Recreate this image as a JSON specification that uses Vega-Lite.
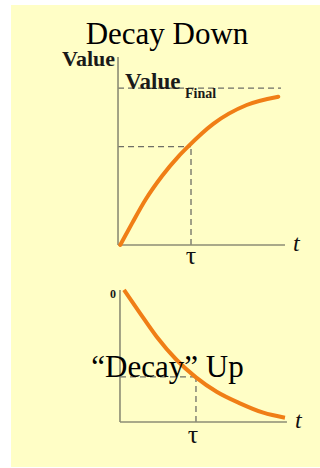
{
  "$schema": "https://vega.github.io/schema/vega-lite/v6.json",
  "width": 320,
  "height": 468,
  "autosize": {"type": "fit", "contains": "padding"},
  "padding": {"left": 11, "top": 5, "right": 0, "bottom": 1},
  "background": "white",
  "config": {"view": {"fill": "#FFFEC6", "stroke": null}, "text": {"font": "Liberation Serif, DejaVu Serif, serif"}},
  "datasets": {
    "top_curve": [
      {"t": 0.03, "v": 0}, {"t": 0.192, "v": 0.138}, {"t": 0.374, "v": 0.287},
      {"t": 0.603, "v": 0.44}, {"t": 0.832, "v": 0.567}, {"t": 0.952, "v": 0.624},
      {"t": 1.305, "v": 0.772}, {"t": 1.763, "v": 0.892}, {"t": 2.196, "v": 0.945}
    ],
    "top_axes": [
      {"t": 0, "v": 0, "t2": 2.288, "v2": 0},
      {"t": 0, "v": 0, "t2": 0, "v2": 1.198}
    ],
    "top_guides": [
      {"t": 0, "v": 1, "t2": 2.233, "v2": 1},
      {"t": 0, "v": 0.627, "t2": 1, "v2": 0.627},
      {"t": 1, "v": 0, "t2": 1, "v2": 0.627}
    ],
    "top_title": [{"t": 0.671, "v": 1.28, "label": "Decay Down"}],
    "top_ylabel": [{"t": -0.041, "v": 1.14, "label": "Value"}],
    "top_final": [{"t": 0.096, "v": 0.994, "label": "Value"}],
    "top_final_sub": [{"t": 0.918, "v": 0.936, "label": "Final"}],
    "top_tau": [{"t": 1.0, "v": -0.121, "label": "τ"}],
    "top_t": [{"t": 2.397, "v": -0.038, "label": "t"}],
    "bottom_curve": [
      {"t": 0.053, "v": 1.082}, {"t": 0.263, "v": 0.893}, {"t": 0.483, "v": 0.699},
      {"t": 0.746, "v": 0.508}, {"t": 1.0, "v": 0.366}, {"t": 1.272, "v": 0.248},
      {"t": 1.579, "v": 0.153}, {"t": 1.886, "v": 0.076}, {"t": 2.171, "v": 0.035}
    ],
    "bottom_axes": [
      {"t": 0, "v": 0, "t2": 2.197, "v2": 0},
      {"t": 0, "v": 0, "t2": 0, "v2": 1.082}
    ],
    "bottom_guides": [
      {"t": 0, "v": 0.369, "t2": 1, "v2": 0.369},
      {"t": 1, "v": 0, "t2": 1, "v2": 0.369}
    ],
    "bottom_title": [{"t": 0.625, "v": 0.369, "label": "“Decay” Up"}],
    "bottom_tau": [{"t": 0.96, "v": -0.172, "label": "τ"}],
    "bottom_t": [{"t": 2.303, "v": -0.049, "label": "t"}],
    "bottom_zero": [{"t": -0.053, "v": 1.016, "label": "0"}]
  },
  "layer": [
    {
      "encoding": {
        "x": {"field": "t", "type": "quantitative", "scale": {"domain": [-1.466, 2.767], "nice": false, "zero": false}, "axis": null},
        "y": {"field": "v", "type": "quantitative", "scale": {"domain": [-1.414, 1.529], "nice": false, "zero": false}, "axis": null}
      },
      "layer": [
        {"data": {"name": "top_guides"}, "mark": {"type": "rule", "color": "#6E6E66", "strokeWidth": 1.3, "strokeDash": [6, 4]}, "encoding": {"x2": {"field": "t2"}, "y2": {"field": "v2"}}},
        {"data": {"name": "top_axes"}, "mark": {"type": "rule", "color": "#8C8C74", "strokeWidth": 1.6}, "encoding": {"x2": {"field": "t2"}, "y2": {"field": "v2"}}},
        {"data": {"name": "top_curve"}, "mark": {"type": "line", "color": "#F07E16", "strokeWidth": 4, "interpolate": "monotone", "strokeCap": "round"}},
        {"data": {"name": "top_title"}, "mark": {"type": "text", "font": "Liberation Serif", "fontSize": 31, "align": "center", "baseline": "alphabetic", "color": "#000000"}, "encoding": {"text": {"field": "label"}}},
        {"data": {"name": "top_ylabel"}, "mark": {"type": "text", "font": "Liberation Serif", "fontSize": 22, "fontWeight": "bold", "align": "right", "baseline": "alphabetic", "color": "#1A1A1A"}, "encoding": {"text": {"field": "label"}}},
        {"data": {"name": "top_final"}, "mark": {"type": "text", "font": "Liberation Serif", "fontSize": 23, "fontWeight": "bold", "align": "left", "baseline": "alphabetic", "color": "#1A1A1A"}, "encoding": {"text": {"field": "label"}}},
        {"data": {"name": "top_final_sub"}, "mark": {"type": "text", "font": "Liberation Serif", "fontSize": 14, "fontWeight": "bold", "align": "left", "baseline": "alphabetic", "color": "#1A1A1A"}, "encoding": {"text": {"field": "label"}}},
        {"data": {"name": "top_tau"}, "mark": {"type": "text", "font": "Liberation Serif", "fontSize": 26, "align": "center", "baseline": "alphabetic", "color": "#111111"}, "encoding": {"text": {"field": "label"}}},
        {"data": {"name": "top_t"}, "mark": {"type": "text", "font": "Liberation Serif", "fontSize": 24, "fontStyle": "italic", "align": "left", "baseline": "alphabetic", "color": "#111111"}, "encoding": {"text": {"field": "label"}}}
      ]
    },
    {
      "encoding": {
        "x": {"field": "t", "type": "quantitative", "scale": {"domain": [-1.434, 2.632], "nice": false, "zero": false}, "axis": null},
        "y": {"field": "v", "type": "quantitative", "scale": {"domain": [-0.369, 3.418], "nice": false, "zero": false}, "axis": null}
      },
      "layer": [
        {"data": {"name": "bottom_guides"}, "mark": {"type": "rule", "color": "#6E6E66", "strokeWidth": 1.3, "strokeDash": [6, 4]}, "encoding": {"x2": {"field": "t2"}, "y2": {"field": "v2"}}},
        {"data": {"name": "bottom_axes"}, "mark": {"type": "rule", "color": "#8C8C74", "strokeWidth": 1.6}, "encoding": {"x2": {"field": "t2"}, "y2": {"field": "v2"}}},
        {"data": {"name": "bottom_curve"}, "mark": {"type": "line", "color": "#F07E16", "strokeWidth": 4, "interpolate": "monotone", "strokeCap": "butt"}},
        {"data": {"name": "bottom_title"}, "mark": {"type": "text", "font": "Liberation Serif", "fontSize": 31, "align": "center", "baseline": "alphabetic", "color": "#000000"}, "encoding": {"text": {"field": "label"}}},
        {"data": {"name": "bottom_tau"}, "mark": {"type": "text", "font": "Liberation Serif", "fontSize": 26, "align": "center", "baseline": "alphabetic", "color": "#111111"}, "encoding": {"text": {"field": "label"}}},
        {"data": {"name": "bottom_t"}, "mark": {"type": "text", "font": "Liberation Serif", "fontSize": 24, "fontStyle": "italic", "align": "left", "baseline": "alphabetic", "color": "#111111"}, "encoding": {"text": {"field": "label"}}},
        {"data": {"name": "bottom_zero"}, "mark": {"type": "text", "font": "Liberation Serif", "fontSize": 12, "fontWeight": "bold", "align": "right", "baseline": "alphabetic", "color": "#1A1A1A"}, "encoding": {"text": {"field": "label"}}}
      ]
    }
  ],
  "resolve": {"scale": {"x": "independent", "y": "independent"}}
}
